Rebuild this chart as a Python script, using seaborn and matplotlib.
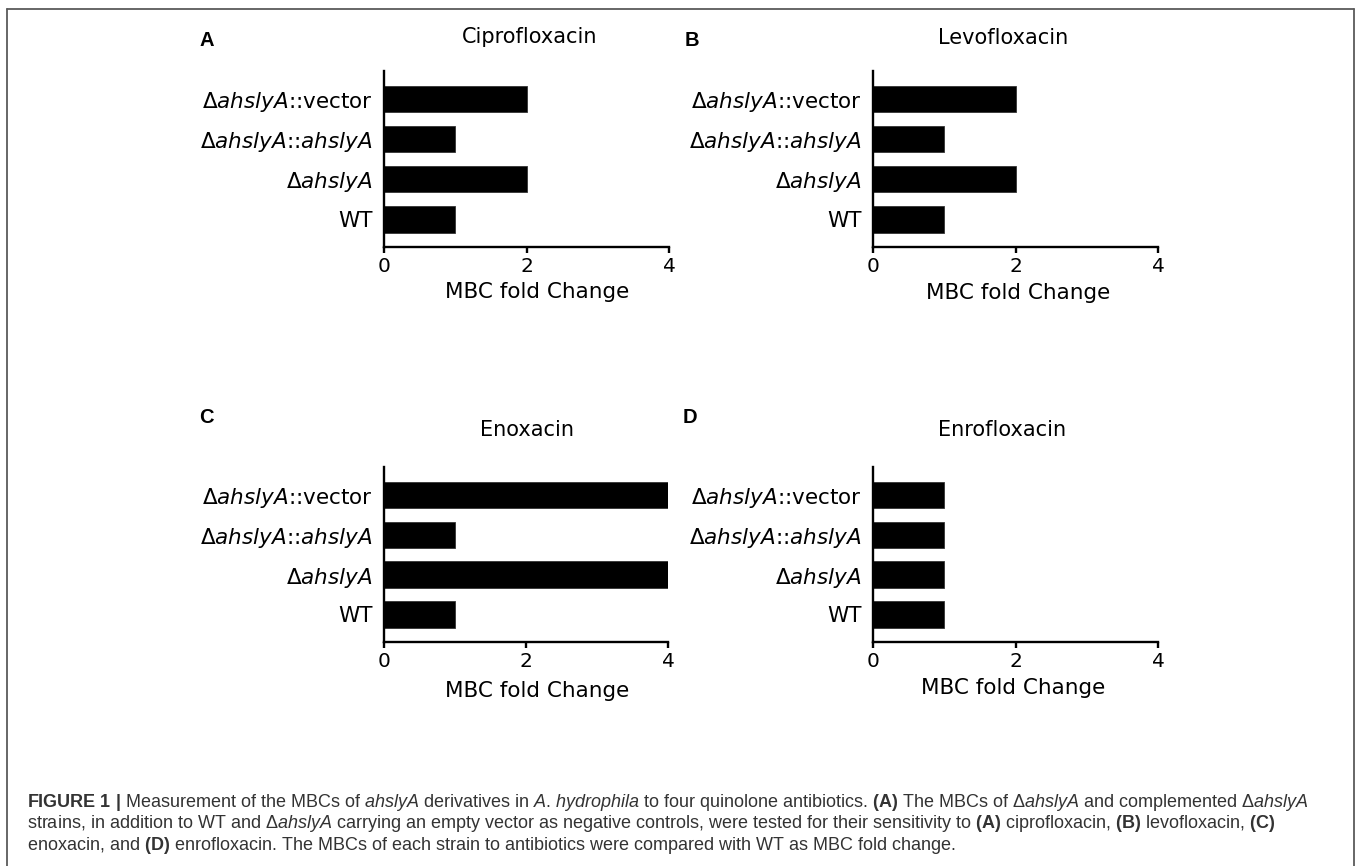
import matplotlib
matplotlib.use("Agg")
import matplotlib.pyplot as plt
import seaborn as sns
import pandas as pd
from matplotlib.lines import Line2D

# ---------------- data ----------------
strains = [r"Δ$\mathit{ahslyA}$::vector",
           r"Δ$\mathit{ahslyA}$::$\mathit{ahslyA}$",
           r"Δ$\mathit{ahslyA}$",
           "WT"]
ciprofloxacin = [2, 1, 2, 1]
levofloxacin = [2, 1, 2, 1]
enoxacin = [4, 1, 4, 1]
enrofloxacin = [1, 1, 1, 1]
antibiotics = ["Ciprofloxacin", "Levofloxacin", "Enoxacin", "Enrofloxacin"]
panel_letters = ["A", "B", "C", "D"]
x_ticks = [0, 2, 4]
x_label = "MBC fold Change"

caption_lines = [
    r"$\mathbf{FIGURE\ 1\ |}$ Measurement of the MBCs of $\mathit{ahslyA}$ derivatives in "
    r"$\mathit{A}$. $\mathit{hydrophila}$ to four quinolone antibiotics. $\mathbf{(A)}$ The MBCs of "
    r"Δ$\mathit{ahslyA}$ and complemented Δ$\mathit{ahslyA}$",
    r"strains, in addition to WT and Δ$\mathit{ahslyA}$ carrying an empty vector as negative "
    r"controls, were tested for their sensitivity to $\mathbf{(A)}$ ciprofloxacin, "
    r"$\mathbf{(B)}$ levofloxacin, $\mathbf{(C)}$",
    r"enoxacin, and $\mathbf{(D)}$ enrofloxacin. The MBCs of each strain to antibiotics "
    r"were compared with WT as MBC fold change.",
]

series = [ciprofloxacin, levofloxacin, enoxacin, enrofloxacin]

# ---------------- style ----------------
sns.set_style("ticks")
plt.rcParams['font.family'] = ['DejaVu Sans']
plt.rcParams['mathtext.fontset'] = 'dejavusans'
plt.rcParams['mathtext.rm'] = 'Liberation Sans'
plt.rcParams['mathtext.it'] = 'Liberation Sans:italic'
plt.rcParams['mathtext.bf'] = 'Liberation Sans:bold'

W, H = 1357, 866
fig = plt.figure(figsize=(W / 100, H / 100), dpi=100, facecolor="white")


def fx(px):
    return px / W


def fy(py):
    return 1 - py / H


# left, top, right, bottom, title_x, title_y, letter_x, letter_y, xlabel_x, xlabel_y  (pixels)
layout = [
    (384, 71, 669, 247, 530, 37, 207, 40, 537, 292),
    (873, 71, 1158, 247, 1003, 38, 692, 40, 1018, 293),
    (384, 467, 668, 642, 527, 430, 206, 417, 537, 691),
    (873, 467, 1158, 642, 1002, 430, 690, 417, 1013, 688),
]

for vals, name, letter, (l, t, r, b, tx, ty, lx, ly, xlx, xly) in zip(
        series, antibiotics, panel_letters, layout):
    ax = fig.add_axes([fx(l), fy(b), (r - l) / W, (b - t) / H])
    df = pd.DataFrame({"strain": strains, "fold": vals})
    sns.barplot(data=df, x="fold", y="strain", ax=ax, color="black",
                saturation=1, width=0.66, orient="h", edgecolor="#333333",
                linewidth=0.6)
    ax.set_xlim(0, 4)
    ax.set_ylim(3.69, -0.7)
    ax.set_xticks(x_ticks)
    ax.set_xticklabels([str(v) for v in x_ticks])
    sns.despine(ax=ax)
    for s in ("left", "bottom"):
        ax.spines[s].set_linewidth(1.7)
        ax.spines[s].set_color("black")
    ax.tick_params(axis="x", length=4.5, width=1.7, pad=3, labelsize=14.5,
                   color="black", labelcolor="black")
    ax.tick_params(axis="y", length=0, pad=8, labelsize=15.5, labelcolor="black")
    ax.set_ylabel("")
    ax.set_xlabel("")
    ax.set_facecolor("white")
    fig.text(fx(xlx), fy(xly), x_label, ha="center", va="center", fontsize=15.5,
             color="black")
    fig.text(fx(tx), fy(ty), name, ha="center", va="center", fontsize=15,
             color="black")
    fig.text(fx(lx), fy(ly), letter, ha="center", va="center", fontsize=14.5,
             fontweight="bold", family="Liberation Sans", color="black")

# caption
for line, yb in zip(caption_lines, [807, 828.5, 850]):
    fig.text(fx(27), fy(yb), line, ha="left", va="baseline", fontsize=13,
             family="Liberation Sans", color="#333333", math_fontfamily="custom")

# frame around figure (top, left, right)
frame_col = "#5a5a5a"
fig.add_artist(Line2D([fx(7), fx(1354)], [fy(9), fy(9)], transform=fig.transFigure,
                      color=frame_col, lw=1.3))
fig.add_artist(Line2D([fx(7), fx(7)], [fy(9), 0], transform=fig.transFigure,
                      color=frame_col, lw=1.3))
fig.add_artist(Line2D([fx(1354), fx(1354)], [fy(9), 0], transform=fig.transFigure,
                      color=frame_col, lw=1.3))

fig.savefig("out.png", dpi=100, facecolor="white")
